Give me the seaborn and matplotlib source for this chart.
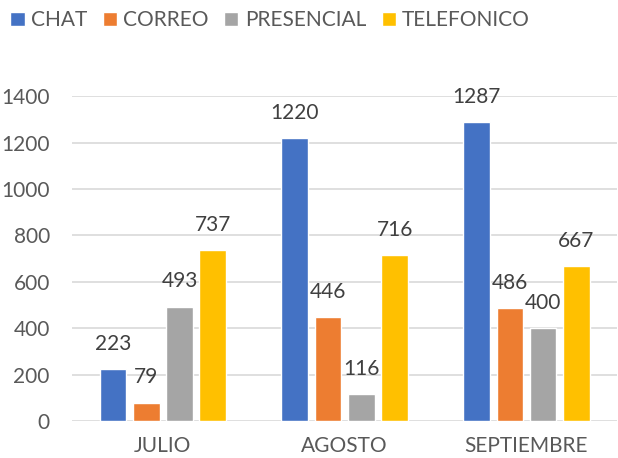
import pandas as pd
import matplotlib
matplotlib.use("Agg")
import matplotlib.pyplot as plt
import seaborn as sns

# Chart values
months = ["JULIO", "AGOSTO", "SEPTIEMBRE"]
channels = ["CHAT", "CORREO", "PRESENCIAL", "TELEFONICO"]
chat = [223, 1220, 1287]
correo = [79, 446, 486]
presencial = [493, 116, 400]
telefonico = [737, 716, 667]

colors = ["#4472C4", "#ED7D31", "#A5A5A5", "#FFC000"]

# Long-format table for seaborn
rows = []
for channel, values in zip(channels, [chat, correo, presencial, telefonico]):
    for month, v in zip(months, values):
        rows.append({"Mes": month, "Canal": channel, "Valor": v})
df = pd.DataFrame(rows)

sns.set_style("white")
plt.rcParams["font.family"] = ["Lato", "DejaVu Sans"]

fig = plt.figure(figsize=(6.18, 4.58), dpi=100)
ax = fig.add_axes([0.1165, 0.081, 0.8825, 0.709])

sns.barplot(data=df, x="Mes", y="Valor", hue="Canal", order=months,
            hue_order=channels, palette=colors, width=0.732, gap=0.2,
            saturation=1, ax=ax, legend=True)

# Data labels
for container in ax.containers:
    ax.bar_label(container, padding=11, fontsize=15, color="#404040")

ax.set_xlim(-0.5, 2.5)
ax.set_ylim(0, 1400)
ax.set_yticks(range(0, 1401, 200))
ax.set_xlabel("")
ax.set_ylabel("")
ax.yaxis.grid(True, color="#D9D9D9", linewidth=1.2)
ax.set_axisbelow(True)
for side in ["top", "right", "left", "bottom"]:
    ax.spines[side].set_visible(False)
ax.tick_params(axis="both", length=0, labelsize=15, labelcolor="#595959")
ax.tick_params(axis="y", pad=16)
# keep month labels fully inside the figure
ax.tick_params(axis="x", pad=11)

# Legend on top, one row
handles, labels = ax.get_legend_handles_labels()
ax.get_legend().remove()
fig.legend(handles, labels, loc="upper left", bbox_to_anchor=(0.0, 1.0),
           ncol=4, frameon=False, fontsize=15, labelcolor="#595959",
           handlelength=0.68, handleheight=0.68, handletextpad=0.3,
           columnspacing=0.75, borderaxespad=0.3, borderpad=0.2)

plt.savefig("out.png", dpi=100)
